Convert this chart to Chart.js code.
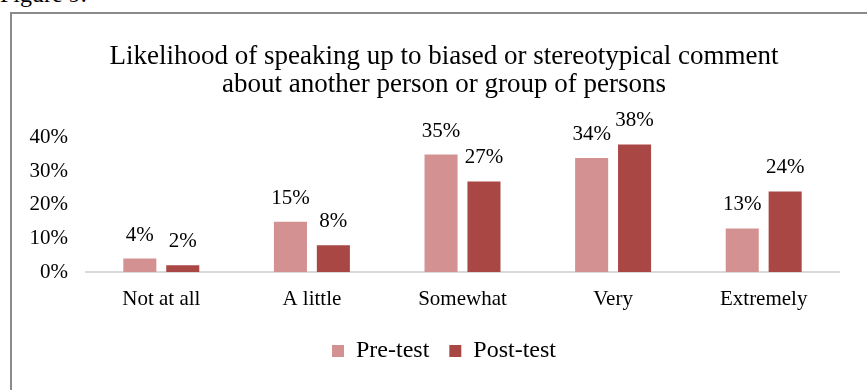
<!DOCTYPE html>
<html lang="en">

<head>
  <meta charset="UTF-8" />
  <title>Figure 9</title>
  <style>
    html,
    body {
      margin: 0;
      width: 867px;
      height: 390px;
      overflow: hidden;
      background: #fff;
      font-family: "Liberation Serif", "Times New Roman", serif;
    }

    .fig_caption {
      position: absolute;
      left: 0px;
      top: -18px;
      font-size: 24px;
      line-height: 24px;
      color: #000;
    }

    .chart_box {
      position: absolute;
      left: 10px;
      top: 12px;
      width: 864px;
      height: 420px;
      border-left: 2px solid #8a8a8a;
      border-top: 2px solid #8a8a8a;
    }
  </style>
  <script src="https://cdn.jsdelivr.net/npm/chart.js"></script>
</head>

<body>
  <div class="fig_caption">Figure 9.</div>
  <div class="chart_box">
    <canvas id="likelihoodChart"></canvas>
  </div>
  <script>
    const categories = ['Not at all', 'A little', 'Somewhat', 'Very', 'Extremely'];
    const preTest = [4, 15, 35, 34, 13];
    const postTest = [2, 8, 27, 38, 24];
    const yTicks = [0, 10, 20, 30, 40];

    Chart.defaults.font.family = "'Liberation Serif', 'Times New Roman', serif";
    Chart.defaults.color = '#000';

    // value labels above each bar
    const barLabels = {
      id: 'barLabels',
      afterDatasetsDraw(chart) {
        const ctx = chart.ctx;
        ctx.save();
        ctx.font = "21px 'Liberation Serif', 'Times New Roman', serif";
        ctx.fillStyle = '#000';
        ctx.textAlign = 'center';
        ctx.textBaseline = 'alphabetic';
        chart.data.datasets.forEach((ds, i) => {
          chart.getDatasetMeta(i).data.forEach((bar, j) => {
            ctx.fillText(ds.data[j] + '%', bar.x, bar.y - 18);
          });
        });
        ctx.restore();
      }
    };

    new Chart('likelihoodChart', {
      type: 'bar',
      data: {
        labels: categories,
        datasets: [{
          label: 'Pre-test',
          data: preTest,
          backgroundColor: '#d39291',
        },
        {
          label: 'Post-test',
          data: postTest,
          backgroundColor: '#a94745',
        }]
      },
      options: {
        responsive: true,
        maintainAspectRatio: false,
        animation: false,
        categoryPercentage: 0.57,
        barPercentage: 0.77,
        layout: {
          padding: { left: 0, right: 0, top: 0, bottom: 61 }
        },
        plugins: {
          title: {
            display: true,
            text: ['Likelihood of speaking up to biased or stereotypical comment', 'about another person or group of persons'],
            font: { size: 27, weight: 'normal', lineHeight: 1.07 },
            color: '#000',
            padding: { top: 28, bottom: 38 }
          },
          legend: {
            position: 'bottom',
            labels: {
              boxWidth: 12,
              boxHeight: 12,
              padding: 20,
              font: { size: 24 },
              color: '#000'
            }
          },
          tooltip: { enabled: false }
        },
        scales: {
          x: {
            grid: { display: false, drawTicks: false },
            border: { display: true, color: '#d9d9d9', width: 2 },
            ticks: { font: { size: 21 }, padding: 15, color: '#000' },
            afterFit: (scale) => { scale.height = 47; }
          },
          y: {
            min: 0,
            max: 40,
            grid: { display: false, drawTicks: false },
            border: { display: false },
            afterBuildTicks: (scale) => { scale.ticks = yTicks.map(v => ({ value: v })); },
            afterFit: (scale) => { scale.width = 74; },
            ticks: {
              font: { size: 21 },
              padding: 18,
              color: '#000',
              callback: (v) => v + '%'
            }
          },
          // empty right-hand margin so title and legend stay centred on the full width
          yRight: {
            position: 'right',
            grid: { display: false, drawTicks: false },
            border: { display: false },
            ticks: { display: false },
            afterFit: (scale) => { scale.width = 37; }
          }
        }
      },
      plugins: [barLabels]
    });
  </script>
</body>

</html>
